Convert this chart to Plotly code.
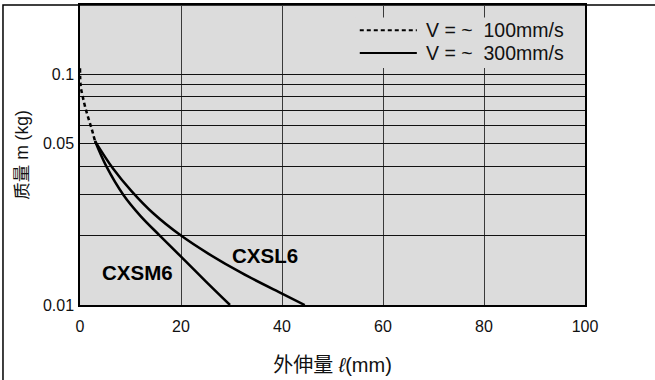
import plotly.graph_objects as go
import math

# ---- data ----
dash_x = [0.0, 0.14, 0.53, 0.99, 1.64, 2.32, 2.97]
dash_y = [0.1064, 0.0887, 0.0803, 0.0727, 0.0648, 0.058, 0.0514]

cxsm6_x = [2.97, 5.2, 8.6, 12.0, 15.8, 20.0, 25.0, 29.7]
cxsm6_y = [0.0514, 0.040, 0.030, 0.0243, 0.020, 0.0162, 0.0126, 0.010]

cxsl6_x = [2.97, 6.5, 10.2, 14.5, 20.0, 25.4, 32.0, 40.0, 44.5]
cxsl6_y = [0.0514, 0.0392, 0.0312, 0.0250, 0.020, 0.0167, 0.01377, 0.0112, 0.010]

x_ticks = [0, 20, 40, 60, 80, 100]
y_ticks = [0.01, 0.02, 0.03, 0.04, 0.05, 0.06, 0.07, 0.08, 0.09, 0.1]
y_ticktext = ["0.01", "", "", "", "0.05", "", "", "", "", "0.1"]

legend_labels = ["V = ~\u00a0\u00a0100mm/s", "V = ~\u00a0\u00a0300mm/s"]
series_labels = ["CXSM6", "CXSL6"]
label_pos_x = [11.4, 36.6]
label_pos_y = [0.0139, 0.0164]

FONT = "Liberation Sans, Arial, Noto Sans CJK SC, sans-serif"

fig = go.Figure()
fig.add_trace(go.Scatter(x=cxsm6_x, y=cxsm6_y, mode="lines", line=dict(color="black", width=2.5, shape="spline"),
                         showlegend=False, name=series_labels[0]))
fig.add_trace(go.Scatter(x=cxsl6_x, y=cxsl6_y, mode="lines", line=dict(color="black", width=2.5, shape="spline"),
                         showlegend=False, name=series_labels[1]))
fig.add_trace(go.Scatter(x=dash_x, y=dash_y, mode="lines",
                         line=dict(color="black", width=2.5, dash="4px,3px", shape="spline"),
                         showlegend=False, name=legend_labels[0]))

for t, x, y in zip(series_labels, label_pos_x, label_pos_y):
    fig.add_annotation(x=x, y=math.log10(y), text="<b>%s</b>" % t, showarrow=False,
                       font=dict(size=20.5, color="black", family=FONT))

# custom legend (paper coords)
fig.add_shape(type="rect", xref="paper", yref="paper", x0=0.545, x1=0.98, y0=0.79, y1=0.958,
              fillcolor="#dcdcdc", line=dict(width=0), layer="above")
fig.add_shape(type="line", xref="paper", yref="paper", x0=0.554, x1=0.667, y0=0.916, y1=0.916,
              line=dict(color="black", width=2, dash="4px,3px"), layer="above")
fig.add_shape(type="line", xref="paper", yref="paper", x0=0.554, x1=0.667, y0=0.840, y1=0.840,
              line=dict(color="black", width=2), layer="above")
for lbl, yy in zip(legend_labels, [0.916, 0.840]):
    fig.add_annotation(xref="paper", yref="paper", x=0.682, y=yy, xanchor="left", yanchor="middle",
                       text=lbl, showarrow=False, font=dict(size=19.5, color="#111", family=FONT))

# outer frame (left and top)
fig.add_shape(type="rect", xref="paper", yref="paper", x0=-0.1525, x1=1.25, y0=-0.4, y1=1.0,
              line=dict(color="black", width=1.5), layer="below")

fig.update_layout(
    width=655, height=380,
    margin=dict(l=80, r=70, t=3, b=75),
    paper_bgcolor="white", plot_bgcolor="#dcdcdc",
    font=dict(family=FONT, color="#111"),
    showlegend=False,
)
fig.update_xaxes(range=[0, 100], tickvals=x_ticks, ticks="", showgrid=True, gridcolor="#3a3a3a", gridwidth=1.3,
                 showline=True, linecolor="black", linewidth=1.5, mirror=True, zeroline=False,
                 tickfont=dict(size=16, color="#111"), ticklabelstandoff=6,
                 title=dict(text="外伸量 <i>ℓ</i>(mm)", font=dict(size=20, color="#111"), standoff=24))
fig.update_yaxes(type="log", range=[-2, math.log10(0.2)], tickvals=y_ticks, ticktext=y_ticktext, ticks="",
                 showgrid=True, gridcolor="#111", gridwidth=1.3,
                 showline=True, linecolor="black", linewidth=1.5, mirror=True, zeroline=False,
                 tickfont=dict(size=16, color="#111"), ticklabelstandoff=1,
                 title=dict(text="质量 m (kg)", font=dict(size=17.5, color="#111"), standoff=10))

fig.write_html("out.html", config={"displayModeBar": False},
               post_script="document.body.style.margin='0';")
